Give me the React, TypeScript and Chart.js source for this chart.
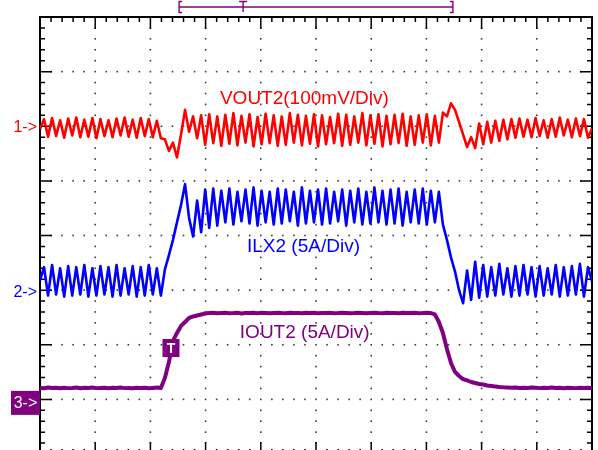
import React, { useEffect, useRef } from "react";
import { Chart, registerables } from "chart.js";

Chart.register(...registerables);

// Graticule: 10 x 8 divisions, 5 minor ticks per division
const X_DIVS = 10;
const Y_DIVS = 8;
const MINOR_PER_DIV = 5;

// Uniform acquisition: 138 samples across the 10 horizontal divisions
const SAMPLE_COUNT = 138;
const SAMPLE_TIME_DIV = Array.from({ length: SAMPLE_COUNT }, (_, i) => (i * X_DIVS) / (SAMPLE_COUNT - 1));

// Channel settings
const CH1_GROUND_DIV = 6; // VOUT2
const CH2_GROUND_DIV = 3; // ILX2
const CH3_GROUND_DIV = 1; // IOUT2
const VOUT2_MV_PER_DIV = 100;
const ILX2_A_PER_DIV = 5;
const IOUT2_A_PER_DIV = 5;

// CH1: VOUT2 AC deviation (mV)
const VOUT2_MV = [
  -5, 13, -19, 15, -18, 11, -21, 14, -17, 16,
  -20, 12, -19, 15, -22, 13, -18, 11, -20, 14,
  -17, 16, -19, 12, -21, 15, -18, 13, -20, 10,
  -22, -24, -45, -30, -57, -15, 30, -10, 18, -22,
  20, -34, 22, -31, 18, -36, 21, -32, 24, -35,
  19, -30, 22, -37, 17, -33, 23, -31, 20, -36,
  18, -34, 24, -30, 21, -35, 19, -32, 22, -37,
  20, -33, 17, -31, 23, -36, 21, -34, 18, -30,
  24, -35, 20, -32, 22, -37, 19, -33, 21, -31,
  23, -36, 18, -34, 20, -30, 22, -35, 19, -30,
  25, 18, 42, 30, 8, -15, -38, -20, -40, 5,
  -33, 8, -30, 10, -27, 12, -24, 13, -21, 14,
  -19, 12, -20, 15, -18, 11, -21, 13, -19, 16,
  -17, 12, -20, 14, -18, 13, -21, -4,
];

// CH2: ILX2 inductor current (A)
const ILX2_A = [
  0.9, 2.1, -0.5, 2.3, -0.4, 2.0, -0.6, 2.2, -0.5, 2.1,
  -0.4, 2.3, -0.6, 2.0, -0.5, 2.2, -0.4, 2.1, -0.6, 2.3,
  -0.5, 2.0, -0.4, 2.2, -0.6, 2.1, -0.5, 2.3, -0.4, 2.0,
  -0.5, 1.9, 3.2, 4.6, 6.2, 7.8, 9.7, 6.6, 4.9, 8.2,
  5.3, 9.2, 5.7, 9.3, 5.9, 9.1, 6.2, 9.3, 6.0, 9.0,
  6.3, 9.2, 6.1, 9.4, 5.9, 9.1, 6.2, 9.0, 6.0, 9.3,
  6.1, 9.2, 6.3, 9.0, 5.9, 9.4, 6.1, 9.1, 6.2, 9.2,
  6.0, 9.3, 6.1, 9.0, 6.3, 9.2, 5.9, 9.1, 6.2, 9.3,
  6.0, 9.0, 6.1, 9.4, 6.2, 9.1, 6.0, 9.2, 6.1, 9.3,
  5.9, 9.0, 6.2, 9.2, 6.1, 9.3, 6.0, 9.1, 6.2, 9.0,
  6.0, 4.6, 3.0, 1.7, 0.0, -1.2, 1.8, -0.9, 2.6, -0.7,
  2.3, -0.6, 2.1, -0.5, 2.4, -0.4, 2.0, -0.6, 2.2, -0.5,
  2.3, -0.4, 2.1, -0.6, 2.2, -0.5, 2.0, -0.4, 2.3, -0.6,
  2.1, -0.5, 2.2, -0.4, 2.4, -0.6, 2.1, 0.8,
];

// CH3: IOUT2 load current (A)
const IOUT2_A = [
  1.05, 1.02, 1.08, 1.04, 1.06, 1.01, 1.07, 1.03, 1.05, 1.09,
  1.02, 1.06, 1.04, 1.08, 1.03, 1.05, 1.07, 1.02, 1.06, 1.04,
  1.08, 1.03, 1.05, 1.01, 1.07, 1.04, 1.06, 1.02, 1.05, 1.08,
  1.05, 1.96, 3.42, 5.35, 6.08, 6.72, 7.08, 7.45, 7.59, 7.68,
  7.77, 7.86, 7.90, 7.92, 7.88, 7.91, 7.93, 7.89, 7.90, 7.92,
  7.87, 7.91, 7.90, 7.93, 7.89, 7.92, 7.90, 7.88, 7.91, 7.93,
  7.90, 7.89, 7.92, 7.90, 7.91, 7.88, 7.93, 7.90, 7.92, 7.89,
  7.91, 7.90, 7.92, 7.88, 7.90, 7.93, 7.91, 7.89, 7.90, 7.92,
  7.90, 7.88, 7.91, 7.93, 7.90, 7.89, 7.92, 7.91, 7.90, 7.88,
  7.92, 7.90, 7.91, 7.93, 7.89, 7.90, 7.92, 7.90, 7.78, 7.08,
  6.08, 4.61, 3.33, 2.51, 2.14, 1.86, 1.73, 1.59, 1.50, 1.41,
  1.36, 1.27, 1.23, 1.18, 1.13, 1.10, 1.08, 1.06, 1.09, 1.05,
  1.07, 1.04, 1.08, 1.06, 1.03, 1.07, 1.05, 1.08, 1.04, 1.06,
  1.02, 1.07, 1.05, 1.03, 1.06, 1.04, 1.07, 1.05,
];

// Annotation text
const CH1_LABEL = "VOUT2(100mV/Div)";
const CH2_LABEL = "ILX2 (5A/Div)";
const CH3_LABEL = "IOUT2 (5A/Div)";
const CH1_MARK = "1->";
const CH2_MARK = "2->";
const CH3_MARK = "3->";

// Annotation anchors (in graticule divisions)
const CH1_LABEL_POS = { x: 3.26, y: 6.5 };
const CH2_LABEL_POS = { x: 3.75, y: 3.79 };
const CH3_LABEL_POS = { x: 3.62, y: 2.215 };
const TRIG_BOX_POS = { x: 2.373, y: 1.94 };
const MEM_WINDOW = { start: 2.52, end: 7.48, trig: 3.68 };

const RED = "#ff0000";
const BLUE = "#0000ff";
const PURPLE = "#800080";
const FONT = "'Liberation Sans', Arial, Helvetica, sans-serif";

const toPoints = (vals: number[], ground: number, perDiv: number) =>
  vals.map((v, i) => ({ x: SAMPLE_TIME_DIV[i], y: ground + v / perDiv }));

const scopePlugin = {
  id: "scopeDecor",
  beforeDatasetsDraw(chart: any) {
    const { ctx, chartArea, scales } = chart;
    const xs = scales.x;
    const ys = scales.y;
    const { left, right, top, bottom } = chartArea;
    ctx.save();
    // dotted graticule
    ctx.fillStyle = "#3a3a3a";
    for (let gx = 1; gx < X_DIVS; gx++) {
      const px = xs.getPixelForValue(gx);
      for (let m = 1; m < Y_DIVS * MINOR_PER_DIV; m++) {
        const py = ys.getPixelForValue(m / MINOR_PER_DIV);
        ctx.fillRect(px - 0.8, py - 0.8, 1.6, 1.6);
      }
    }
    for (let gy = 1; gy < Y_DIVS; gy++) {
      const py = ys.getPixelForValue(gy);
      for (let m = 1; m < X_DIVS * MINOR_PER_DIV; m++) {
        if (m % MINOR_PER_DIV === 0) continue;
        const px = xs.getPixelForValue(m / MINOR_PER_DIV);
        ctx.fillRect(px - 0.8, py - 0.8, 1.6, 1.6);
      }
    }
    // border
    ctx.strokeStyle = "#000";
    ctx.lineWidth = 2;
    ctx.beginPath();
    ctx.moveTo(left, bottom);
    ctx.lineTo(left, top);
    ctx.lineTo(right, top);
    ctx.lineTo(right, bottom);
    ctx.lineTo(left, bottom);
    ctx.stroke();
    // tick marks
    ctx.lineWidth = 1.5;
    ctx.beginPath();
    for (let m = 1; m < Y_DIVS * MINOR_PER_DIV; m++) {
      const py = ys.getPixelForValue(m / MINOR_PER_DIV);
      const len = m % MINOR_PER_DIV === 0 ? 12 : 5;
      ctx.moveTo(left, py);
      ctx.lineTo(left + len, py);
      ctx.moveTo(right, py);
      ctx.lineTo(right - len, py);
    }
    for (let m = 1; m < X_DIVS * MINOR_PER_DIV; m++) {
      const px = xs.getPixelForValue(m / MINOR_PER_DIV);
      const len = m % MINOR_PER_DIV === 0 ? 12 : 5;
      ctx.moveTo(px, top);
      ctx.lineTo(px, top + len);
      ctx.moveTo(px, bottom);
      ctx.lineTo(px, bottom - len);
    }
    ctx.stroke();
    ctx.restore();
  },
  afterDatasetsDraw(chart: any) {
    const { ctx, chartArea, scales } = chart;
    const xs = scales.x;
    const ys = scales.y;
    const { left, top } = chartArea;
    ctx.save();
    // channel labels
    ctx.font = `19px ${FONT}`;
    ctx.textAlign = "left";
    ctx.textBaseline = "middle";
    ctx.fillStyle = RED;
    ctx.fillText(CH1_LABEL, xs.getPixelForValue(CH1_LABEL_POS.x), ys.getPixelForValue(CH1_LABEL_POS.y));
    ctx.fillStyle = BLUE;
    ctx.fillText(CH2_LABEL, xs.getPixelForValue(CH2_LABEL_POS.x), ys.getPixelForValue(CH2_LABEL_POS.y));
    ctx.fillStyle = PURPLE;
    ctx.fillText(CH3_LABEL, xs.getPixelForValue(CH3_LABEL_POS.x), ys.getPixelForValue(CH3_LABEL_POS.y));

    // ground markers
    ctx.font = `16px ${FONT}`;
    ctx.textAlign = "right";
    ctx.fillStyle = RED;
    ctx.fillText(CH1_MARK, left - 3, ys.getPixelForValue(CH1_GROUND_DIV) + 1);
    ctx.fillStyle = BLUE;
    ctx.fillText(CH2_MARK, left - 3, ys.getPixelForValue(CH2_GROUND_DIV) + 2);
    const g3 = ys.getPixelForValue(CH3_GROUND_DIV);
    ctx.fillStyle = PURPLE;
    ctx.fillRect(left - 29, g3 - 8.5, 29, 24);
    ctx.fillStyle = "#fff";
    ctx.textAlign = "center";
    ctx.fillText(CH3_MARK, left - 14.5, g3 + 4);

    // trigger box on CH3 trace
    const tx = xs.getPixelForValue(TRIG_BOX_POS.x);
    const ty = ys.getPixelForValue(TRIG_BOX_POS.y);
    ctx.fillStyle = PURPLE;
    ctx.fillRect(tx - 8.5, ty - 9, 17, 18);
    ctx.fillStyle = "#fff";
    ctx.font = `bold 14px ${FONT}`;
    ctx.textAlign = "center";
    ctx.fillText("T", tx, ty + 1);

    // memory window bracket above the graticule
    const by = top - 10;
    const bx1 = xs.getPixelForValue(MEM_WINDOW.start);
    const bx2 = xs.getPixelForValue(MEM_WINDOW.end);
    const btx = xs.getPixelForValue(MEM_WINDOW.trig);
    ctx.strokeStyle = PURPLE;
    ctx.lineWidth = 1.4;
    ctx.beginPath();
    ctx.moveTo(bx1, by);
    ctx.lineTo(bx2, by);
    ctx.moveTo(bx1 + 3, by - 5.5);
    ctx.lineTo(bx1, by - 5.5);
    ctx.lineTo(bx1, by + 5.5);
    ctx.lineTo(bx1 + 3, by + 5.5);
    ctx.moveTo(bx2 - 3, by - 5.5);
    ctx.lineTo(bx2, by - 5.5);
    ctx.lineTo(bx2, by + 5.5);
    ctx.lineTo(bx2 - 3, by + 5.5);
    ctx.moveTo(btx - 4, by - 5.5);
    ctx.lineTo(btx + 4, by - 5.5);
    ctx.moveTo(btx, by - 5.5);
    ctx.lineTo(btx, by + 5);
    ctx.stroke();
    ctx.restore();
  },
};

export default function App() {
  const canvasRef = useRef<HTMLCanvasElement | null>(null);

  useEffect(() => {
    const canvas = canvasRef.current;
    if (!canvas) return;
    const chart = new Chart(canvas, {
      type: "line",
      data: {
        datasets: [
          {
            label: "IOUT2",
            data: toPoints(IOUT2_A, CH3_GROUND_DIV, IOUT2_A_PER_DIV),
            borderColor: PURPLE,
            borderWidth: 4,
            borderJoinStyle: "round",
            pointRadius: 0,
            tension: 0,
          },
          {
            label: "ILX2",
            data: toPoints(ILX2_A, CH2_GROUND_DIV, ILX2_A_PER_DIV),
            borderColor: BLUE,
            borderWidth: 2.6,
            borderJoinStyle: "round",
            pointRadius: 0,
            tension: 0,
          },
          {
            label: "VOUT2",
            data: toPoints(VOUT2_MV, CH1_GROUND_DIV, VOUT2_MV_PER_DIV),
            borderColor: RED,
            borderWidth: 2.6,
            borderJoinStyle: "round",
            pointRadius: 0,
            tension: 0,
          },
        ],
      },
      options: {
        responsive: false,
        devicePixelRatio: 1,
        animation: false,
        layout: { padding: { left: 40, top: 17, right: 6, bottom: 10 } },
        plugins: { legend: { display: false }, tooltip: { enabled: false } },
        scales: {
          x: { type: "linear", min: 0, max: X_DIVS, display: false },
          y: { type: "linear", min: 0, max: Y_DIVS, display: false },
        },
      },
      plugins: [scopePlugin],
    } as any);
    return () => chart.destroy();
  }, []);

  return (
    <div
      style={{
        position: "fixed",
        left: 0,
        top: 0,
        width: 598,
        height: 450,
        overflow: "hidden",
        background: "#fff",
      }}
    >
      <canvas ref={canvasRef} width={598} height={464} style={{ display: "block", width: 598, height: 464 }} />
    </div>
  );
}
